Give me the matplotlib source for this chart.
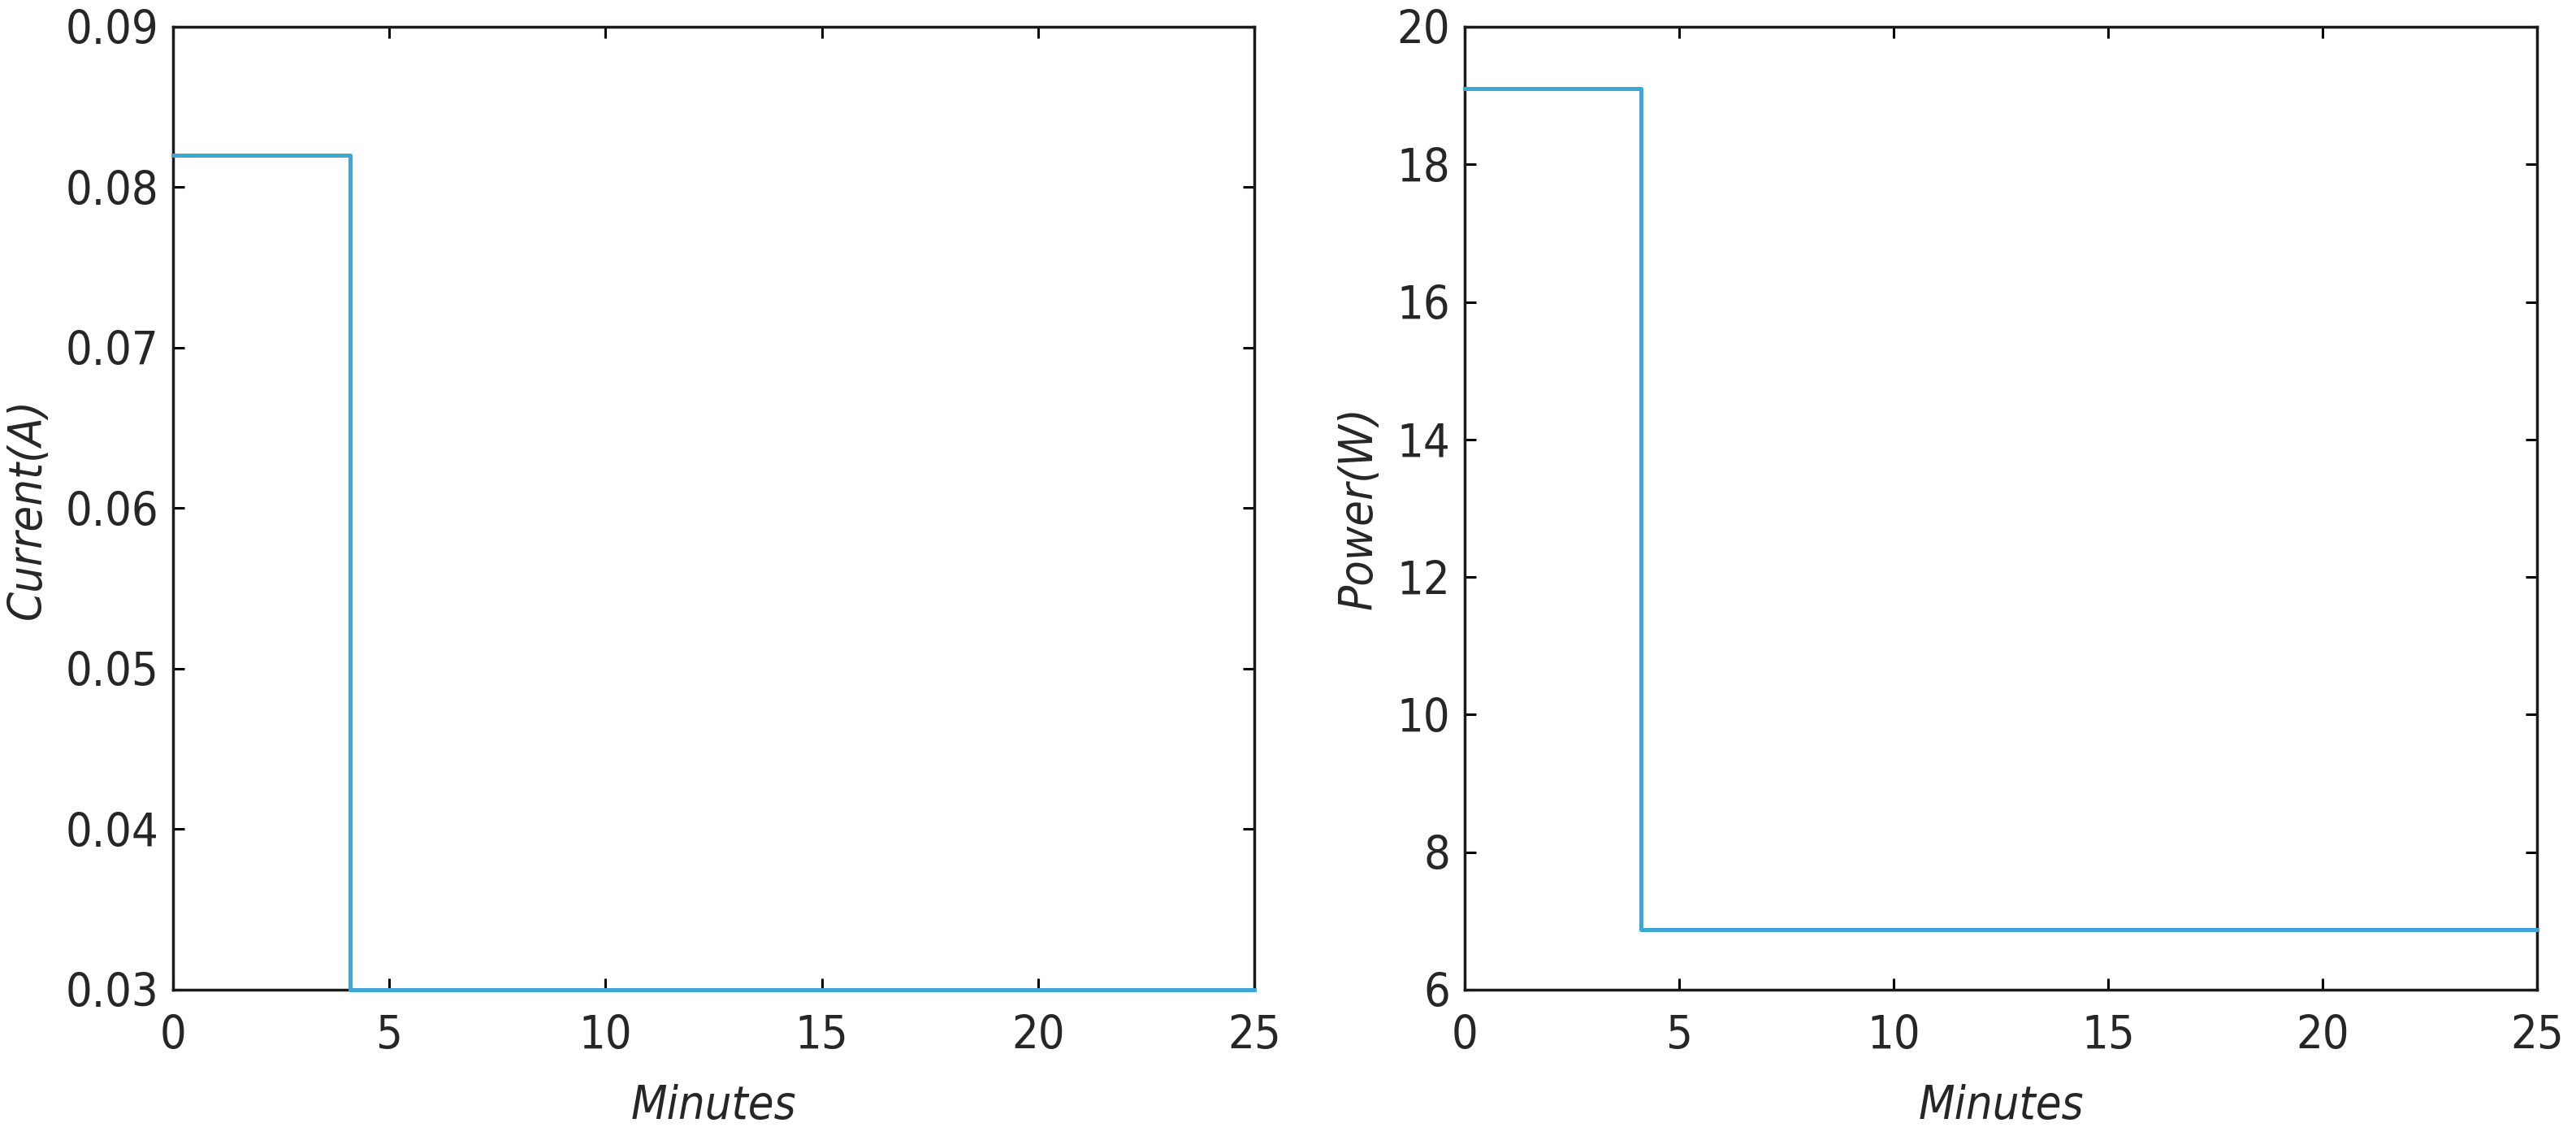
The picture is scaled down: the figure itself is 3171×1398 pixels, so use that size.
#!/usr/bin/env python3
"""Current and power draw over time, two side-by-side step plots."""

import matplotlib
matplotlib.use('Agg')
import matplotlib.pyplot as plt
from matplotlib import font_manager

# Data
minutes = [0, 4.1, 25]
current_a = [0.082, 0.03, 0.03]
power_w = [19.1, 6.87, 6.87]

x_ticks = [0, 5, 10, 15, 20, 25]
current_ticks = [0.03, 0.04, 0.05, 0.06, 0.07, 0.08, 0.09]
power_ticks = [6, 8, 10, 12, 14, 16, 18, 20]

LINE_COLOR = '#3FA7D6'
TEXT_COLOR = '#262626'
FS = 20.7

# the original looks like a condensed Vera/DejaVu face; use it when present
_cond = font_manager.findfont(font_manager.FontProperties(family='DejaVu Sans', stretch='condensed'))
STRETCH = 'condensed' if 'Condensed' in _cond else 'normal'
plt.rcParams['font.family'] = 'DejaVu Sans'
plt.rcParams['font.stretch'] = STRETCH


def style_axes(ax):
    for s in ax.spines.values():
        s.set_linewidth(1.25)
        s.set_color('#1a1a1a')
    ax.tick_params(direction='in', length=5, width=1.1, top=True, right=True,
                   labelsize=FS, labelcolor=TEXT_COLOR)
    ax.tick_params(axis='y', pad=6.5)
    ax.tick_params(axis='x', pad=11)


def main():
    fig = plt.figure(figsize=(15.855, 6.99), dpi=200)

    ax1 = fig.add_axes([0.0672, 0.1288, 0.4197, 0.8476])
    ax1.plot(minutes, current_a, drawstyle='steps-post', color=LINE_COLOR,
             linewidth=1.8, clip_on=False, zorder=5)
    ax1.set_xlim(0, 25)
    ax1.set_ylim(0.03, 0.09)
    ax1.set_xticks(x_ticks)
    ax1.set_yticks(current_ticks)
    ax1.set_yticklabels([f'{v:.2f}' for v in current_ticks])
    ax1.set_xlabel('Minutes', fontsize=FS, style='italic', color=TEXT_COLOR, labelpad=11)
    ax1.set_ylabel('Current(A)', fontsize=FS, style='italic', color=TEXT_COLOR, labelpad=6.5)
    style_axes(ax1)

    ax2 = fig.add_axes([0.5686, 0.1288, 0.4164, 0.8476])
    ax2.plot(minutes, power_w, drawstyle='steps-post', color=LINE_COLOR,
             linewidth=1.8, clip_on=False, zorder=5)
    ax2.set_xlim(0, 25)
    ax2.set_ylim(6, 20)
    ax2.set_xticks(x_ticks)
    ax2.set_yticks(power_ticks)
    ax2.set_xlabel('Minutes', fontsize=FS, style='italic', color=TEXT_COLOR, labelpad=11)
    ax2.set_ylabel('Power(W)', fontsize=FS, style='italic', color=TEXT_COLOR, labelpad=6.5)
    style_axes(ax2)

    fig.savefig('out.png', dpi=200)


if __name__ == "__main__":
    main()
